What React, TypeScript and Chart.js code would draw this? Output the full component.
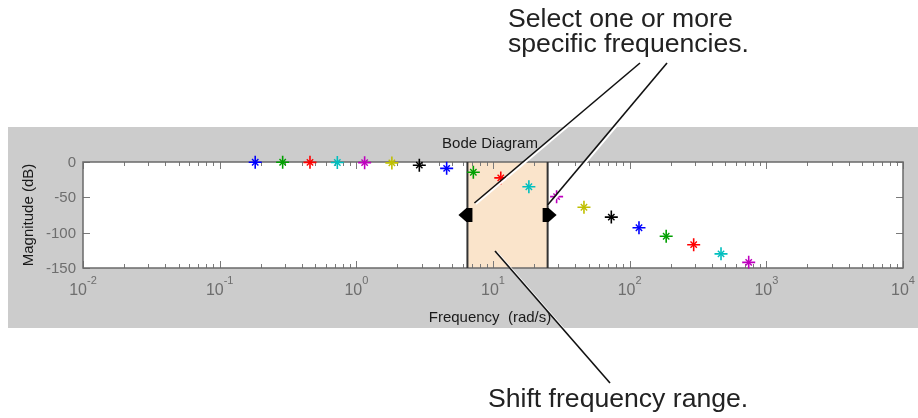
import React, { useEffect, useRef } from "react";
import { Chart, registerables } from "chart.js";

Chart.register(...registerables);

// ---- data ----
const frequencies = [0.182, 0.289, 0.458, 0.726, 1.15, 1.82, 2.89, 4.58, 7.18, 11.4, 18.3, 29.2, 46.3, 73.4, 117, 185, 294, 466, 743];
const magnitudes = [-0.3, -0.4, -0.5, -0.7, -0.9, -1.3, -4.5, -9, -14.5, -22.5, -35, -49, -64, -78, -93, -105, -117, -130, -142];
const markerColors = [
  "#0000ff", "#00a000", "#ff0000", "#00bfbf", "#bf00bf", "#bfbf00", "#000000",
  "#0000ff", "#00a000", "#ff0000", "#00bfbf", "#bf00bf", "#bfbf00", "#000000",
  "#0000ff", "#00a000", "#ff0000", "#00bfbf", "#bf00bf",
];
const xDecades = [-2, -1, 0, 1, 2, 3, 4];
const xMinorMultipliers = [2, 3, 4, 5, 6, 7, 8, 9];
const yTickValues = [0, -50, -100, -150];
const selectedRange = [6.5, 25.1];
const chartTitle = "Bode Diagram";
const xTitle = "Frequency  (rad/s)";
const yTitle = "Magnitude (dB)";
const calloutTop = ["Select one or more", "specific frequencies."];
const calloutBottom = "Shift frequency range.";

const FONT = "'Liberation Sans', Arial, Helvetica, sans-serif";

const decor = {
  id: "decor",
  beforeDraw(chart: any) {
    const ctx = chart.ctx as CanvasRenderingContext2D;
    const { left, right, top, bottom } = chart.chartArea;
    const xs = chart.scales.x;
    const ys = chart.scales.y;
    ctx.save();
    ctx.fillStyle = "#ffffff";
    ctx.fillRect(0, 0, chart.width, chart.height);
    ctx.fillStyle = "#cccccc";
    ctx.fillRect(8, 127, chart.width - 8, 201);
    ctx.fillStyle = "#ffffff";
    ctx.fillRect(left, top, right - left, bottom - top);

    // selected frequency band
    const xa = xs.getPixelForValue(selectedRange[0]);
    const xb = xs.getPixelForValue(selectedRange[1]);
    ctx.fillStyle = "#fae4cb";
    ctx.fillRect(xa, top, xb - xa, bottom - top);

    // ticks
    ctx.strokeStyle = "#7a7a7a";
    ctx.lineWidth = 1;
    ctx.beginPath();
    for (const d of xDecades) {
      const mults = [1, ...xMinorMultipliers];
      for (const m of mults) {
        const v = m * Math.pow(10, d);
        if (v > xs.max * 1.0001) continue;
        const px = Math.round(xs.getPixelForValue(v)) + 0.5;
        const len = m === 1 ? 7 : 4;
        ctx.moveTo(px, top);
        ctx.lineTo(px, top + len);
        ctx.moveTo(px, bottom);
        ctx.lineTo(px, bottom - len);
      }
    }
    for (const v of yTickValues) {
      const py = Math.round(ys.getPixelForValue(v)) + 0.5;
      ctx.moveTo(left, py);
      ctx.lineTo(left + 7, py);
      ctx.moveTo(right, py);
      ctx.lineTo(right - 7, py);
    }
    ctx.stroke();

    // axes box
    ctx.strokeStyle = "#6a6a6a";
    ctx.lineWidth = 1.5;
    ctx.strokeRect(left, top, right - left, bottom - top);

    // band edges
    ctx.strokeStyle = "#333333";
    ctx.lineWidth = 2;
    ctx.beginPath();
    ctx.moveTo(xa, top);
    ctx.lineTo(xa, bottom);
    ctx.moveTo(xb, top);
    ctx.lineTo(xb, bottom);
    ctx.stroke();

    // y tick labels
    ctx.fillStyle = "#6e6e6e";
    ctx.font = `15px ${FONT}`;
    ctx.textAlign = "right";
    ctx.textBaseline = "middle";
    for (const v of yTickValues) {
      ctx.fillText(String(v), left - 7, ys.getPixelForValue(v) + 1);
    }
    // x tick labels 10^n
    ctx.textBaseline = "alphabetic";
    ctx.textAlign = "left";
    for (const d of xDecades) {
      const px = xs.getPixelForValue(Math.pow(10, d));
      ctx.font = `16px ${FONT}`;
      const w1 = ctx.measureText("10").width;
      ctx.font = `11px ${FONT}`;
      const w2 = ctx.measureText(String(d)).width;
      const x0 = px - (w1 + w2) / 2;
      ctx.font = `16px ${FONT}`;
      ctx.fillText("10", x0, bottom + 27);
      ctx.font = `11px ${FONT}`;
      ctx.fillText(String(d), x0 + w1, bottom + 16);
    }

    // titles
    ctx.fillStyle = "#1a1a1a";
    ctx.font = `15px ${FONT}`;
    ctx.textAlign = "center";
    ctx.textBaseline = "middle";
    ctx.fillText(chartTitle, 490, 144);
    ctx.fillText(xTitle, 490, 318);
    ctx.save();
    ctx.translate(29, 215);
    ctx.rotate(-Math.PI / 2);
    ctx.fillText(yTitle, 0, 0);
    ctx.restore();
    ctx.restore();
  },
  afterDraw(chart: any) {
    const ctx = chart.ctx as CanvasRenderingContext2D;
    const { top, bottom } = chart.chartArea;
    const xs = chart.scales.x;
    const xa = xs.getPixelForValue(selectedRange[0]);
    const xb = xs.getPixelForValue(selectedRange[1]);
    const ym = (top + bottom) / 2;
    ctx.save();
    // handle markers
    ctx.fillStyle = "#000000";
    ctx.beginPath();
    ctx.moveTo(xa - 9, ym);
    ctx.lineTo(xa - 1, ym - 7);
    ctx.lineTo(xa + 5, ym - 7);
    ctx.lineTo(xa + 5, ym + 7);
    ctx.lineTo(xa - 1, ym + 7);
    ctx.closePath();
    ctx.fill();
    ctx.beginPath();
    ctx.moveTo(xb + 9, ym);
    ctx.lineTo(xb + 1, ym - 7);
    ctx.lineTo(xb - 5, ym - 7);
    ctx.lineTo(xb - 5, ym + 7);
    ctx.lineTo(xb + 1, ym + 7);
    ctx.closePath();
    ctx.fill();

    // callout lines
    const lines: [number, number, number, number][] = [
      [640, 63, xa + 7, ym - 12],
      [667, 63, xb, ym - 10],
      [495, 251, 610, 383],
    ];
    for (const [x1, y1, x2, y2] of lines) {
      ctx.strokeStyle = "#ffffff";
      ctx.lineWidth = 2;
      ctx.beginPath();
      ctx.moveTo(x1 + 1.5, y1 + 1);
      ctx.lineTo(x2 + 1.5, y2 + 1);
      ctx.stroke();
      ctx.strokeStyle = "#111111";
      ctx.lineWidth = 1.6;
      ctx.beginPath();
      ctx.moveTo(x1, y1);
      ctx.lineTo(x2, y2);
      ctx.stroke();
    }

    // callout text
    ctx.fillStyle = "#222222";
    ctx.font = `26.6px ${FONT}`;
    ctx.textAlign = "left";
    ctx.textBaseline = "alphabetic";
    ctx.fillText(calloutTop[0], 508, 27);
    ctx.fillText(calloutTop[1], 508, 52);
    ctx.fillText(calloutBottom, 488, 407);
    ctx.restore();
  },
};

export default function App() {
  const ref = useRef<HTMLCanvasElement | null>(null);
  useEffect(() => {
    if (!ref.current) return;
    const pts = frequencies.map((f, i) => ({ x: f, y: magnitudes[i] }));
    const chart = new Chart(ref.current, {
      type: "scatter",
      data: {
        datasets: [
          {
            label: "plus",
            data: pts,
            pointStyle: "cross",
            pointRadius: 6.5,
            pointBorderWidth: 1.6,
            pointBorderColor: markerColors,
            pointBackgroundColor: markerColors,
            showLine: false,
            clip: false,
          } as any,
          {
            label: "times",
            data: pts,
            pointStyle: "crossRot",
            pointRadius: 4.5,
            pointBorderWidth: 1.4,
            pointBorderColor: markerColors,
            pointBackgroundColor: markerColors,
            showLine: false,
            clip: false,
          } as any,
        ],
      },
      options: {
        responsive: false,
        animation: false,
        devicePixelRatio: 1,
        layout: { padding: { left: 83, right: 15, top: 162, bottom: 150 } },
        plugins: { legend: { display: false }, tooltip: { enabled: false }, title: { display: false } },
        events: [],
        scales: {
          x: { type: "logarithmic", min: 0.01, max: 10000, display: false },
          y: { type: "linear", min: -150, max: 0, display: false },
        },
      },
      plugins: [decor],
    });
    return () => chart.destroy();
  }, []);
  return (
    <div style={{ position: "fixed", left: 0, top: 0, width: 918, height: 418 }}>
      <canvas ref={ref} width={918} height={418} style={{ display: "block" }} />
    </div>
  );
}
